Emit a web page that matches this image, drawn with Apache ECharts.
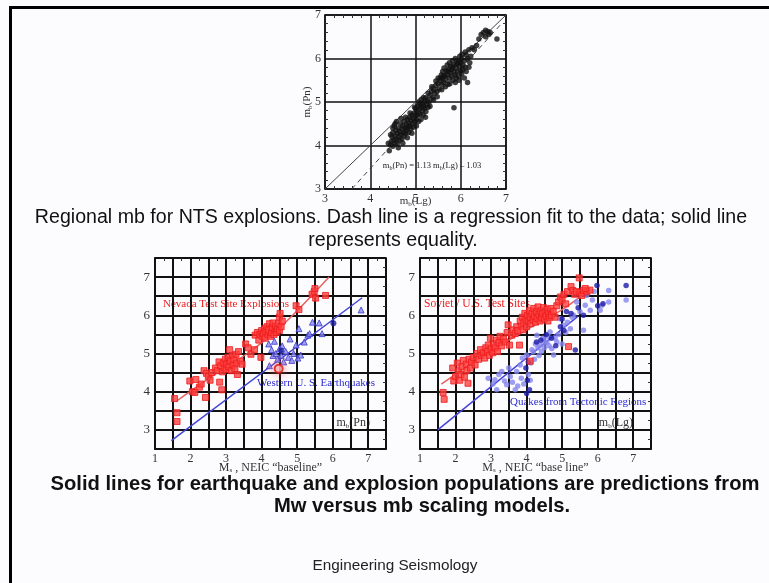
<!DOCTYPE html>
<html>
<head>
<meta charset="utf-8">
<script src="https://cdn.jsdelivr.net/npm/echarts@6/dist/echarts.min.js"></script>
<style>
  html, body { margin: 0; padding: 0; background: #fcfcfe; }
  #chart { position: absolute; left: 0; top: 0; width: 769px; height: 583px; }
  .bar-top { position: absolute; left: 9px; top: 6px; width: 760px; height: 3px; background: #000; }
  .bar-left { position: absolute; left: 9px; top: 6px; width: 3px; height: 577px; background: #000; }
</style>
</head>
<body>
<div id="chart"></div>
<div class="bar-top"></div>
<div class="bar-left"></div>
<script>
// ── Data ──

// top panel: regional mb(Pn) vs mb(Lg) for NTS explosions
const ntsPoints = [
  [4.42,3.88],[4.45,4.02],[4.47,4.10],[4.48,4.20],[4.50,3.98],[4.50,4.30],[4.52,4.12],[4.53,4.45],[4.55,4.05],[4.55,4.22],
  [4.57,4.35],[4.58,4.15],[4.60,4.28],[4.60,4.05],[4.62,4.40],[4.63,4.20],[4.65,4.12],[4.65,4.32],[4.67,4.50],[4.68,4.25],
  [4.70,4.38],[4.70,4.15],[4.72,4.45],[4.73,4.30],[4.75,4.22],[4.75,4.55],[4.77,4.40],[4.78,4.28],[4.80,4.48],[4.80,4.35],
  [4.82,4.60],[4.83,4.42],[4.85,4.30],[4.85,4.52],[4.87,4.65],[4.88,4.45],[4.90,4.38],[4.90,4.58],[4.92,4.70],[4.93,4.50],
  [4.95,4.62],[4.95,4.42],[4.97,4.75],[4.98,4.55],[5.00,4.68],[5.00,4.85],[5.02,4.60],[5.03,4.78],[5.05,4.90],[5.05,4.70],
  [5.07,4.55],[5.08,4.82],[5.10,4.95],[5.10,4.72],[5.12,4.88],[5.13,5.05],[5.15,4.80],[5.15,4.95],[5.17,4.70],[5.18,4.90],
  [5.20,5.00],[5.20,4.85],[5.22,5.10],[5.23,4.78],[5.25,4.95],[5.27,5.05],[5.28,4.88],[5.30,5.00],[5.32,5.15],[5.35,5.25],
  [5.38,5.10],[5.40,5.30],[5.42,5.20],[5.45,5.38],[5.47,5.25],[5.50,5.42],[5.50,5.55],[5.52,5.30],[5.55,5.50],[5.57,5.62],
  [5.58,5.40],[5.60,5.55],[5.60,5.70],[5.62,5.45],[5.63,5.78],[5.65,5.60],[5.67,5.50],[5.68,5.72],[5.70,5.85],[5.70,5.62],
  [5.72,5.40],[5.73,5.75],[5.75,5.55],[5.75,5.90],[5.77,5.68],[5.78,5.82],[5.80,5.60],[5.80,5.75],[5.82,5.95],[5.83,5.50],
  [5.85,5.70],[5.85,5.85],[5.87,5.62],[5.88,6.00],[5.90,5.78],[5.90,5.55],[5.92,5.88],[5.93,5.70],[5.95,5.95],[5.95,5.60],
  [5.97,5.82],[5.98,6.05],[6.00,5.72],[6.00,5.90],[6.02,5.65],[6.03,6.10],[6.05,5.85],[6.05,5.75],[6.08,5.95],[6.10,5.80],
  [6.10,6.15],[6.12,5.70],[6.15,5.45],[6.15,6.00],[6.18,6.20],[6.20,5.90],[6.25,6.25],[6.30,6.20],[6.45,6.55],[6.50,6.60],
  [6.55,6.65],[6.55,6.50],[6.60,6.62],[6.62,6.55],[6.80,6.45],[5.85,4.87],[4.55,4.50],[4.40,4.05],
  [4.45,4.25],[4.50,4.40],[4.58,4.55],[4.62,3.95],[4.68,4.62],[4.72,4.05],[4.78,4.65],[4.82,4.18],[4.88,4.75],[4.92,4.28],
  [4.98,4.88],[5.02,4.45],[5.08,5.00],[5.12,4.60],[5.18,5.10],[5.22,4.65],[5.28,5.20],[5.32,4.90],[5.36,5.35],[5.40,5.05],
  [5.45,5.48],[5.48,5.12],[5.55,5.55],[5.58,5.28],[5.62,5.60],[5.66,5.35],[5.72,5.70],[5.76,5.42],[5.82,5.80],[5.88,5.45],
  [5.92,5.90],[5.96,5.50],[6.02,6.00],[6.08,5.55],[6.12,6.08],[6.18,5.80],[6.22,6.05],[6.35,6.30],[6.40,6.45],[6.65,6.60]
];
const equalityLine = [[3, 3], [7, 7]];
const regressionLine = [[3.59, 3], [6.9, 6.8]];

// bottom-left panel: Nevada explosions vs western US earthquakes, mb(Pn) vs Ms
const nevadaPoints = [
  [1.55,3.82],[1.62,3.45],[1.62,3.22],[1.98,4.28],[2.05,4.00],[2.15,4.32],[2.12,3.98],[2.25,4.12],[2.30,4.20],[2.38,4.55],
  [2.42,3.85],[2.45,4.48],[2.50,4.40],[2.55,4.30],[2.60,4.50],[2.70,4.62],[2.75,4.55],[2.80,4.78],[2.82,4.25],[2.85,4.68],
  [2.88,4.05],[2.90,4.52],[2.92,4.75],[2.95,4.62],[2.98,4.85],[3.00,4.58],[3.02,4.72],[3.05,4.90],[3.08,4.65],[3.10,5.10],
  [3.12,4.80],[3.15,4.55],[3.18,4.95],[3.20,4.70],[3.22,4.85],[3.25,4.60],[3.28,4.98],[3.30,4.75],[3.32,4.45],[3.35,5.05],
  [3.40,4.80],[3.45,4.72],[3.55,5.25],[3.62,5.15],[3.70,4.98],[3.80,5.10],[3.82,5.48],[3.88,5.55],[3.92,5.35],[3.95,5.50],
  [3.98,4.90],[4.00,5.60],[4.02,5.45],[4.05,5.52],[4.08,5.65],[4.10,5.40],[4.12,5.58],[4.15,5.70],[4.18,5.50],[4.20,5.62],
  [4.22,5.78],[4.25,5.45],[4.28,5.55],[4.30,5.68],[4.32,5.80],[4.35,5.50],[4.38,5.62],[4.40,5.72],[4.42,5.55],[4.45,5.65],
  [4.48,5.78],[4.50,5.60],[4.50,5.95],[4.52,6.05],[4.55,5.70],[4.58,5.85],[4.97,6.25],[5.05,6.15],[5.42,6.55],[5.48,6.62],
  [5.52,6.45],[5.50,6.70],[5.80,6.52]
];
const westernQuakes = [
  [4.20,5.25],[4.22,4.68],[4.28,5.10],[4.32,4.95],[4.36,5.32],[4.40,5.00],[4.45,4.85],[4.50,5.12],[4.55,4.95],[4.58,5.20],
  [4.62,4.78],[4.68,5.05],[4.75,4.90],[4.80,5.38],[4.85,4.82],[4.90,5.00],[4.97,5.22],[5.02,4.88],[5.05,5.65],[5.10,4.96],
  [5.20,5.30],[5.30,5.48],[5.35,5.52],[5.43,5.82],[5.62,5.80],[5.70,5.52],[6.80,6.14]
];
const westernQuakesDark = [[4.55,5.08],[6.02,5.79]];
const highlightPoint = [[4.48,4.60]];
const nevadaModel = [[1.6,3.75],[2.6,4.4],[3.6,5.0],[4.6,5.75],[5.9,7.0]];
const westernModel = [[1.46,2.72],[6.83,6.46]];

// bottom-right panel: Soviet/US test sites vs tectonic quakes, mb(Lg) vs Ms
const sovietPoints = [
  [1.65,3.98],[1.68,3.80],[1.92,4.62],[1.95,4.28],[2.00,4.40],[2.05,4.75],[2.08,4.55],[2.12,4.30],[2.15,4.45],[2.18,4.65],
  [2.22,4.82],[2.25,4.38],[2.30,4.72],[2.32,4.55],[2.35,4.22],[2.38,4.85],[2.42,4.62],[2.45,4.78],[2.50,4.90],[2.55,4.70],
  [2.60,5.00],[2.65,4.85],[2.70,5.10],[2.72,4.95],[2.78,5.02],[2.82,4.88],[2.85,5.15],[2.90,5.05],[2.92,5.22],[2.95,4.95],
  [2.98,5.40],[3.00,5.12],[3.05,5.02],[3.08,5.25],[3.12,5.15],[3.15,5.35],[3.18,5.05],[3.22,5.28],[3.25,5.45],[3.30,5.20],
  [3.35,5.38],[3.40,5.30],[3.45,5.55],[3.48,5.75],[3.52,5.22],[3.58,5.48],[3.62,5.62],[3.68,5.52],[3.72,5.70],[3.75,5.60],
  [3.80,5.22],[3.82,5.85],[3.85,5.72],[3.88,5.95],[3.90,5.62],[3.92,5.80],[3.95,6.05],[3.98,5.90],[4.00,5.70],[4.02,6.00],
  [4.05,5.85],[4.08,6.12],[4.10,5.95],[4.10,4.80],[4.12,5.78],[4.15,6.05],[4.18,5.88],[4.20,6.18],[4.22,5.98],[4.25,5.82],
  [4.28,6.10],[4.30,5.92],[4.32,6.22],[4.35,6.02],[4.38,5.85],[4.40,6.12],[4.42,5.95],[4.45,6.05],[4.48,6.20],[4.50,5.90],
  [4.52,6.08],[4.55,5.98],[4.58,6.15],[4.60,5.85],[4.62,6.05],[4.65,5.95],[4.68,6.18],[4.70,6.00],[4.75,6.10],[4.80,5.95],
  [4.85,6.25],[4.90,6.35],[4.95,6.48],[5.00,6.40],[5.05,6.55],[5.10,6.30],[5.15,6.62],[5.18,5.18],[5.25,6.75],[5.30,6.65],
  [5.35,6.55],[5.40,6.62],[5.48,6.98],[5.50,6.60],[5.55,6.52],[5.60,6.65],[5.70,6.62],[5.78,6.66],[5.65,6.70]
];
const tectonicLight = [
  [2.92,4.35],[3.05,4.20],[3.11,4.31],[3.16,4.05],[3.22,4.45],[3.30,4.53],[3.38,4.28],[3.44,4.18],[3.50,4.62],[3.54,4.40],
  [3.60,4.25],[3.68,4.05],[3.72,4.53],[3.75,4.15],[3.82,4.70],[3.85,4.35],[3.88,4.88],[3.92,4.20],[4.00,4.96],[4.05,4.45],
  [4.10,4.30],[4.12,4.75],[4.15,5.10],[4.19,5.04],[4.22,4.85],[4.25,5.25],[4.29,5.48],[4.32,5.15],[4.35,4.95],[4.38,5.22],
  [4.42,5.05],[4.45,5.40],[4.47,5.39],[4.50,5.15],[4.52,5.28],[4.57,5.30],[4.60,5.45],[4.63,5.20],[4.66,5.56],[4.71,5.13],
  [4.76,4.96],[4.80,5.40],[4.85,5.30],[4.90,5.50],[4.94,5.91],[5.00,5.25],[5.04,5.74],[5.10,5.55],[5.15,5.82],[5.23,5.65],
  [5.28,5.95],[5.32,6.00],[5.41,6.35],[5.50,6.10],[5.60,5.61],[5.65,6.26],[5.69,6.52],[5.79,6.13],[5.85,6.40],[6.07,6.13],
  [6.12,6.26],[6.31,6.65],[6.31,6.35],[6.80,6.40],[5.90,6.62]
];
const tectonicDark = [
  [3.98,4.62],[4.00,3.95],[4.08,4.05],[4.02,4.30],[4.05,4.78],[4.28,5.30],[4.40,5.35],[4.55,5.50],[4.70,5.40],[4.82,5.20],
  [5.00,5.90],[5.05,5.60],[5.12,6.10],[5.25,6.05],[5.37,5.09],[5.45,6.20],[5.60,6.00],[5.98,6.78],[6.00,6.25],[6.15,6.30],
  [6.80,6.78],[4.95,5.70]
];
const sovietModel = [[1.6,4.2],[2.8,4.96],[4.0,5.62],[5.0,6.15],[5.6,6.55]];
const tectonicModel = [[1.5,3.0],[5.45,5.98]];

// ── Styling helpers ──
const SERIF = '"Liberation Serif", "DejaVu Serif", serif';
const SANS = '"Liberation Sans", Arial, sans-serif';
const RED = '#ee1c1c';
const BLUE = '#2b2bd0';

function intLabel(v) { return Math.abs(v - Math.round(v)) < 1e-6 ? String(Math.round(v)) : ''; }

function mainAxis(grid, min, max, step, lineW, fontSize, extra) {
  return Object.assign({
    type: 'value', gridIndex: grid, min: min, max: max, interval: step,
    nameMoveOverlap: false,
    axisLine: { show: true, onZero: false, lineStyle: { color: '#111', width: lineW } },
    axisTick: { show: false, inside: true },
    splitLine: { show: true, lineStyle: { color: '#111', width: lineW } },
    axisLabel: { color: '#333', fontFamily: SERIF, fontSize: fontSize, margin: 4, formatter: intLabel },
  }, extra);
}

function sideAxis(grid, min, max, step, pos, minorSplit) {
  return {
    type: 'value', gridIndex: grid, min: min, max: max, interval: step, position: pos,
    axisLine: { show: true, onZero: false, lineStyle: { color: '#111', width: 1.5 } },
    axisTick: { show: false, inside: true },
    minorTick: { show: true, splitNumber: minorSplit, length: 3, lineStyle: { color: '#333', width: 1 } },
    splitLine: { show: false },
    axisLabel: { show: false },
  };
}

const subRich = {
  b: { fontFamily: SERIF, fontSize: 7, padding: [6, 0, 0, 0], color: '#333' },
};

const chart = echarts.init(document.getElementById('chart'));

chart.setOption({
  backgroundColor: '#fcfcfe',
  animation: false,
  grid: [
    { left: 325, top: 15, width: 181, height: 174 },
    { left: 155, top: 258, width: 231, height: 191 },
    { left: 420, top: 258, width: 231, height: 191 },
  ],
  xAxis: [
    mainAxis(0, 3, 7, 1, 1.5, 12, {
      minorTick: { show: true, splitNumber: 5, length: 3, lineStyle: { color: '#333' } },
      name: 'm{b|b}(Lg)', nameLocation: 'middle', nameGap: 6,
      nameTextStyle: { fontFamily: SERIF, fontSize: 11, color: '#333', rich: subRich },
    }),
    sideAxis(0, 3, 7, 1, 'top', 5),
    mainAxis(1, 1, 7.5, 0.5, 2, 12, {
      name: 'M{b|s} , NEIC \u201cbaseline\u201d', nameLocation: 'middle', nameGap: 12,
      nameTextStyle: { fontFamily: SERIF, fontSize: 12, color: '#333', rich: subRich },
    }),
    sideAxis(1, 1, 7.5, 0.5, 'top', 2),
    mainAxis(2, 1, 7.5, 0.5, 2, 12, {
      name: 'M{b|s} , NEIC \u201cbase line\u201d', nameLocation: 'middle', nameGap: 12,
      nameTextStyle: { fontFamily: SERIF, fontSize: 12, color: '#333', rich: subRich },
    }),
    sideAxis(2, 1, 7.5, 0.5, 'top', 2),
  ],
  yAxis: [
    mainAxis(0, 3, 7, 1, 1.5, 12, {
      minorTick: { show: true, splitNumber: 5, length: 3, lineStyle: { color: '#333' } },
      name: 'm{b|b}(Pn)', nameLocation: 'middle', nameGap: 11, nameRotate: 90,
      nameTextStyle: { fontFamily: SERIF, fontSize: 11, color: '#333', rich: subRich },
    }),
    sideAxis(0, 3, 7, 1, 'right', 5),
    mainAxis(1, 2.5, 7.5, 0.5, 2, 12, { axisLabel: { color: '#333', fontFamily: SERIF, fontSize: 13, margin: 5, formatter: intLabel } }),
    sideAxis(1, 2.5, 7.5, 0.5, 'right', 2),
    mainAxis(2, 2.5, 7.5, 0.5, 2, 12, { axisLabel: { color: '#333', fontFamily: SERIF, fontSize: 13, margin: 5, formatter: intLabel } }),
    sideAxis(2, 2.5, 7.5, 0.5, 'right', 2),
  ],
  series: [
    // top panel
    { type: 'line', xAxisIndex: 0, yAxisIndex: 0, data: equalityLine, showSymbol: false,
      lineStyle: { color: '#444', width: 1 }, z: 3 },
    { type: 'line', xAxisIndex: 0, yAxisIndex: 0, data: regressionLine, showSymbol: false,
      lineStyle: { color: '#444', width: 1, type: [5, 4] }, z: 3 },
    { type: 'scatter', xAxisIndex: 0, yAxisIndex: 0, data: ntsPoints, symbol: 'circle', symbolSize: 5.5,
      itemStyle: { color: '#111' }, z: 4 },

    // bottom-left panel
    { type: 'line', xAxisIndex: 2, yAxisIndex: 2, data: nevadaModel, showSymbol: false, smooth: 0.3,
      lineStyle: { color: '#e86060', width: 1.5 }, z: 3 },
    { type: 'line', xAxisIndex: 2, yAxisIndex: 2, data: westernModel, showSymbol: false,
      lineStyle: { color: '#4545d8', width: 1.5 }, z: 3 },
    { type: 'scatter', xAxisIndex: 2, yAxisIndex: 2, data: westernQuakes, symbol: 'triangle', symbolSize: 6,
      itemStyle: { color: '#8a8af5', borderColor: '#3838c8', borderWidth: 1 }, z: 4 },
    { type: 'scatter', xAxisIndex: 2, yAxisIndex: 2, data: westernQuakesDark, symbol: 'circle', symbolSize: 6,
      itemStyle: { color: '#1a1aa0' }, z: 4 },
    { type: 'scatter', xAxisIndex: 2, yAxisIndex: 2, data: nevadaPoints, symbol: 'rect', symbolSize: 6,
      itemStyle: { color: '#ff4040', borderColor: RED, borderWidth: 1 }, z: 5 },
    { type: 'scatter', xAxisIndex: 2, yAxisIndex: 2, data: highlightPoint, symbol: 'circle', symbolSize: 8,
      itemStyle: { color: '#ffd0d0', borderColor: '#e01010', borderWidth: 2, shadowBlur: 10, shadowColor: 'rgba(255,90,90,0.9)' }, z: 6 },

    // bottom-right panel
    { type: 'line', xAxisIndex: 4, yAxisIndex: 4, data: sovietModel, showSymbol: false, smooth: 0.3,
      lineStyle: { color: '#e86060', width: 1.5 }, z: 3 },
    { type: 'line', xAxisIndex: 4, yAxisIndex: 4, data: tectonicModel, showSymbol: false,
      lineStyle: { color: '#4545d8', width: 1.5 }, z: 3 },
    { type: 'scatter', xAxisIndex: 4, yAxisIndex: 4, data: tectonicLight, symbol: 'circle', symbolSize: 5.5,
      itemStyle: { color: '#8484ee' }, z: 4 },
    { type: 'scatter', xAxisIndex: 4, yAxisIndex: 4, data: tectonicDark, symbol: 'circle', symbolSize: 5.5,
      itemStyle: { color: '#1c1ca8' }, z: 4 },
    { type: 'scatter', xAxisIndex: 4, yAxisIndex: 4, data: sovietPoints, symbol: 'rect', symbolSize: 6,
      itemStyle: { color: '#ff4040', borderColor: RED, borderWidth: 1 }, z: 5 },
  ],
  graphic: [
    // top panel regression formula
    { type: 'text', x: 432, y: 166, silent: true, style: {
      text: 'm{b|b}(Pn) = 1.13 m{b|b}(Lg) \u2013 1.03', font: '8.5px ' + SERIF, fill: '#222',
      align: 'center', verticalAlign: 'middle', backgroundColor: '#fcfcfe',
      rich: { b: { font: '6px ' + SERIF, padding: [4, 0, 0, 0], fill: '#222' } } } },

    // panel labels
    { type: 'text', x: 163, y: 304, silent: true, style: {
      text: 'Nevada Test Site Explosions', font: '11px ' + SERIF, fill: RED, verticalAlign: 'middle' } },
    { type: 'text', x: 257, y: 383, silent: true, style: {
      text: 'Western U. S. Earthquakes', font: '11px ' + SERIF, fill: BLUE, verticalAlign: 'middle' } },
    { type: 'text', x: 370, y: 423, silent: true, style: {
      text: 'm{b|b}(Pn)', font: '12px ' + SERIF, fill: '#333', align: 'right', verticalAlign: 'middle',
      rich: { b: { font: '7px ' + SERIF, padding: [6, 0, 0, 0], fill: '#333' } } } },
    { type: 'text', x: 424, y: 304, silent: true, style: {
      text: 'Soviet / U.S. Test Sites', font: '11.5px ' + SERIF, fill: RED, verticalAlign: 'middle' } },
    { type: 'text', x: 510, y: 402, silent: true, style: {
      text: 'Quakes from Tectonic Regions', font: '11px ' + SERIF, fill: BLUE, verticalAlign: 'middle' } },
    { type: 'text', x: 633, y: 423, silent: true, style: {
      text: 'm{b|b}(Lg)', font: '12px ' + SERIF, fill: '#333', align: 'right', verticalAlign: 'middle',
      rich: { b: { font: '7px ' + SERIF, padding: [6, 0, 0, 0], fill: '#333' } } } },

    // slide captions
    { type: 'text', x: 391, y: 218, silent: true, style: {
      text: 'Regional mb for NTS explosions. Dash line is a regression fit to the data; solid line',
      font: '19.6px ' + SANS, fill: '#111', align: 'center', verticalAlign: 'middle' } },
    { type: 'text', x: 393, y: 241, silent: true, style: {
      text: 'represents equality.', font: '19.6px ' + SANS, fill: '#111', align: 'center', verticalAlign: 'middle' } },
    { type: 'text', x: 405, y: 484, silent: true, style: {
      text: 'Solid lines for earthquake and explosion populations are predictions from',
      font: 'bold 20.2px ' + SANS, fill: '#111', align: 'center', verticalAlign: 'middle' } },
    { type: 'text', x: 422, y: 506, silent: true, style: {
      text: 'Mw versus mb scaling models.', font: 'bold 20.2px ' + SANS, fill: '#111', align: 'center', verticalAlign: 'middle' } },
    { type: 'text', x: 395, y: 566, silent: true, style: {
      text: 'Engineering Seismology', font: '15.3px ' + SANS, fill: '#222', align: 'center', verticalAlign: 'middle' } },
  ],
});
</script>
</body>
</html>
